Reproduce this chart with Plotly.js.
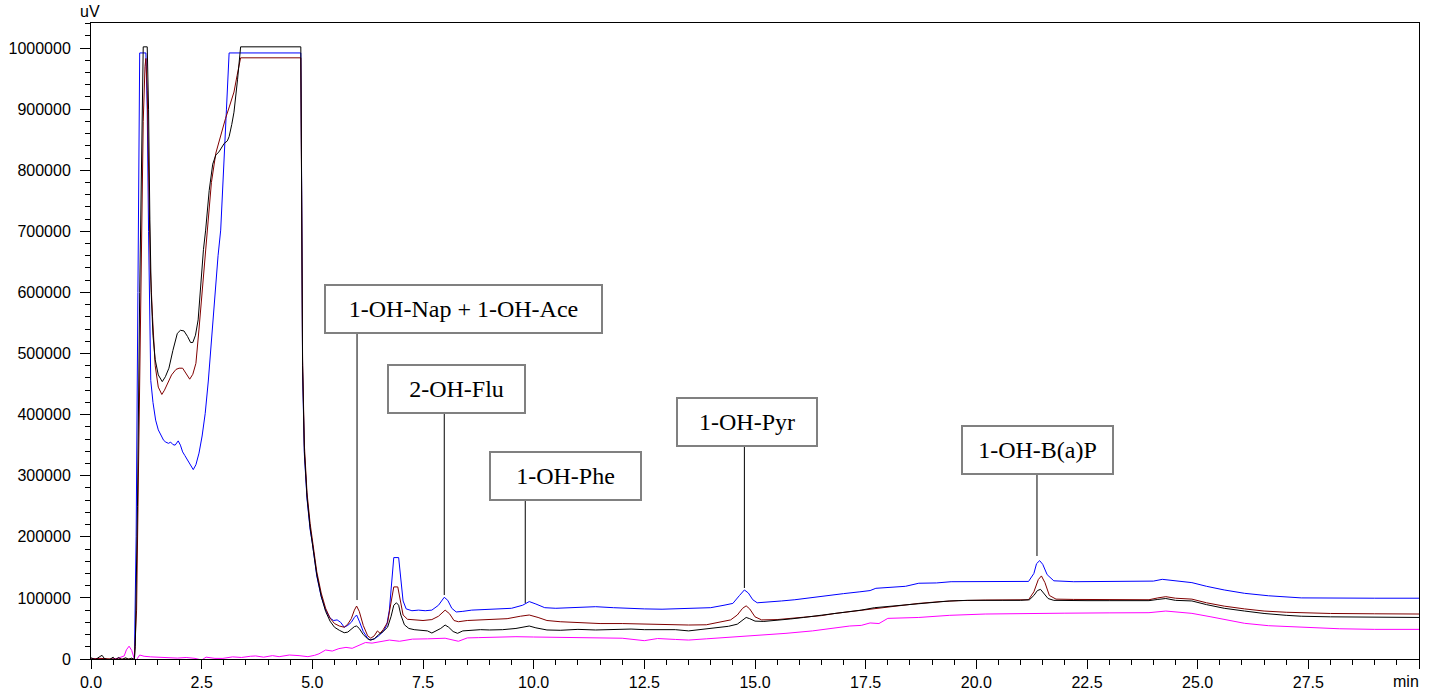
<!DOCTYPE html>
<html>
<head>
<meta charset="utf-8">
<script src="https://cdn.plot.ly/plotly-3.0.1.min.js"></script>
<style>html,body{margin:0;padding:0;background:#fff;}#chart{width:1435px;height:696px;}</style>
</head>
<body>
<div id="chart"></div>
<script>
// ---- data (retention time in min, signal in uV) ----
var blackT = [0.00,0.10,0.20,0.25,0.30,0.40,0.50,0.55,0.62,0.70,0.78,0.85,0.92,0.98,1.00,1.05,1.10,1.15,1.18,1.27,1.30,1.33,1.36,1.40,1.45,1.52,1.61,1.68,1.76,1.85,1.95,2.02,2.10,2.18,2.25,2.30,2.36,2.42,2.48,2.54,2.59,2.67,2.75,2.82,2.89,2.96,3.01,3.08,3.12,3.18,3.23,3.31,3.36,3.38,4.74,4.76,4.78,4.82,4.88,4.95,5.00,5.10,5.20,5.30,5.40,5.50,5.61,5.72,5.80,5.88,5.95,6.00,6.06,6.15,6.25,6.32,6.40,6.50,6.60,6.70,6.78,6.84,6.90,6.95,7.00,7.08,7.18,7.30,7.45,7.60,7.70,7.80,7.90,8.00,8.08,8.18,8.28,8.40,8.60,8.80,9.00,9.30,9.60,9.80,9.90,10.05,10.30,10.60,11.00,11.40,11.80,12.20,12.50,12.90,13.20,13.50,13.80,14.10,14.40,14.60,14.72,14.80,14.88,15.00,15.20,15.50,15.80,16.10,16.40,16.70,17.00,17.14,17.40,17.70,18.00,18.40,18.70,19.00,19.40,19.80,20.20,20.60,21.00,21.20,21.30,21.38,21.45,21.52,21.62,21.75,22.00,22.50,23.00,23.50,23.90,24.10,24.28,24.50,24.87,25.20,25.60,26.06,26.50,27.00,27.34,28.00,28.50,29.00,30.00];
var blackV = [2000,-1000,4000,6000,1000,-2000,3000,-1500,2500,-1000,2000,-500,1500,-1000,20000,250000,600000,900000,1002000,1002000,900000,720000,600000,530000,490000,465000,454000,462000,476000,505000,533000,538000,537000,528000,518000,518000,530000,555000,620000,670000,702000,767000,810000,825000,830000,838000,844000,848000,855000,875000,895000,948000,990000,1002000,1002000,750000,480000,340000,265000,215000,192000,138000,103000,78000,62000,52000,47000,43000,44000,48000,53000,54000,50000,40000,33000,31000,33000,40000,45000,52000,70000,88000,92000,88000,72000,56000,50000,48000,47500,46000,42500,46000,50000,55600,52000,45000,42000,46000,47500,48000,47500,48000,50000,53000,54000,51000,47500,47000,48500,47500,48500,49000,48000,47500,48000,46000,48500,50000,53500,57000,64000,68000,66000,62000,61500,63000,65500,68000,70500,73000,75500,77000,80000,84000,86000,89000,91000,93000,95000,96000,96500,96000,96000,97000,104000,112000,114000,108000,99000,96000,95500,95500,95500,95500,95500,97500,99000,96000,95000,89000,83000,78500,74500,71500,70000,69000,68500,68000,68000];

var redT = [0.00,0.20,0.50,0.80,0.98,1.03,1.08,1.13,1.18,1.22,1.24,1.27,1.30,1.34,1.39,1.45,1.52,1.60,1.66,1.73,1.82,1.92,1.99,2.07,2.14,2.23,2.30,2.37,2.44,2.53,2.63,2.72,2.82,2.92,3.04,3.13,3.23,3.30,3.38,4.74,4.76,4.78,4.82,4.88,4.95,5.00,5.10,5.20,5.30,5.40,5.50,5.61,5.72,5.80,5.88,5.95,6.00,6.06,6.15,6.25,6.32,6.40,6.47,6.53,6.60,6.70,6.78,6.84,6.93,6.98,7.05,7.15,7.30,7.50,7.70,7.85,8.00,8.10,8.20,8.30,8.50,8.80,9.10,9.40,9.70,9.90,10.10,10.30,10.60,11.00,11.50,12.00,12.50,13.00,13.50,13.90,14.20,14.45,14.60,14.72,14.80,14.88,15.00,15.15,15.50,15.80,16.10,16.50,16.80,17.14,17.50,17.99,18.40,18.70,19.20,19.60,20.20,20.80,21.18,21.30,21.40,21.47,21.55,21.65,21.80,22.20,22.80,23.40,23.90,24.10,24.28,24.50,24.87,25.20,25.60,26.06,26.50,27.00,27.34,28.00,29.00,30.00];
var redV = [0,1000,0,500,0,80000,350000,650000,880000,970000,983000,930000,800000,640000,560000,480000,445000,433000,440000,451000,465000,474000,476000,476000,468000,458000,466000,484000,540000,620000,702000,780000,828000,855000,885000,905000,928000,955000,984000,984000,740000,490000,350000,272000,222000,198000,143000,108000,83000,67000,58000,54000,52000,57000,66000,80000,86700,78000,55000,38000,34000,38000,46000,42000,48000,60000,90000,118000,118000,100000,72000,65000,64000,63000,64500,70000,80000,74000,63000,61000,63000,64000,64000,66000,70000,72000,68000,63000,61000,59500,58000,58000,57000,56500,55600,56000,60000,64000,72000,83000,87000,82000,69000,64000,64500,66500,68500,71000,74500,77400,81000,85600,89000,91000,94000,95500,96500,96500,97000,110000,130000,136000,125000,104000,98000,97500,97000,97000,97000,100000,102000,99500,98000,92000,86500,82000,78500,76500,75800,74500,74000,73600];

var blueT = [0.00,0.15,0.30,0.50,0.70,0.90,0.98,1.02,1.06,1.10,1.24,1.27,1.30,1.33,1.35,1.40,1.46,1.52,1.58,1.64,1.69,1.75,1.80,1.85,1.90,1.97,2.02,2.07,2.12,2.18,2.25,2.31,2.37,2.44,2.51,2.58,2.65,2.71,2.77,2.82,2.87,2.93,3.00,3.06,3.12,4.74,4.76,4.78,4.82,4.88,4.95,5.00,5.10,5.20,5.30,5.40,5.48,5.56,5.64,5.72,5.80,5.88,5.95,6.00,6.06,6.15,6.25,6.30,6.40,6.50,6.60,6.68,6.74,6.80,6.84,6.95,7.00,7.05,7.12,7.25,7.40,7.55,7.70,7.85,7.98,8.06,8.15,8.25,8.40,8.60,8.90,9.20,9.50,9.75,9.90,10.05,10.25,10.50,11.00,11.40,11.80,12.20,12.50,12.90,13.30,13.70,14.00,14.30,14.50,14.65,14.76,14.85,14.95,15.05,15.30,15.60,15.90,16.20,16.60,17.00,17.37,17.60,17.73,18.00,18.40,18.70,19.10,19.43,20.20,20.80,21.18,21.30,21.36,21.43,21.50,21.60,21.75,22.20,23.00,23.60,24.00,24.20,24.45,24.87,25.20,25.60,26.06,26.60,27.34,28.00,29.00,30.00];
var blueV = [-2000,-3000,-1000,-3000,-2000,-3000,-1000,200000,600000,992000,992000,900000,700000,520000,456000,420000,391000,375000,366000,358000,355000,353000,355000,351000,350000,357000,350000,339000,333000,325000,317000,310000,318000,337000,365000,402000,455000,511000,570000,620000,660000,702000,800000,900000,992000,992000,760000,470000,335000,262000,212000,190000,136000,102000,80000,67000,63000,64000,60000,52000,55000,60000,68000,72000,62000,45000,34000,31000,33000,38000,45000,55000,80000,130000,166000,166000,130000,95000,82000,79000,80000,79000,80000,88000,101000,96000,83000,77000,78000,80000,81000,82000,83000,88000,94000,90000,84000,83000,84000,85600,84000,82500,82000,81500,82500,82500,84000,88000,91000,104000,113000,108000,97000,92000,93000,95000,97000,100000,104000,107000,110000,112000,115700,117000,119000,124000,124500,126500,126500,126500,127000,140000,156000,161000,155000,138000,128000,126500,126500,126500,127500,130400,128000,125000,119000,113000,107500,103500,100000,99500,99500,99500];

var magentaT = [0.00,0.20,0.40,0.60,0.75,0.80,0.86,0.92,0.97,1.02,1.10,1.20,1.35,1.55,1.75,1.95,2.15,2.35,2.50,2.60,2.80,2.98,3.20,3.40,3.60,3.72,3.90,4.10,4.25,4.48,4.70,4.90,5.05,5.15,5.30,5.45,5.60,5.76,5.90,6.05,6.20,6.35,6.50,6.74,6.97,7.26,7.60,8.00,8.30,8.50,8.76,9.20,9.60,10.00,10.50,11.00,11.50,12.00,12.50,12.80,13.20,13.50,13.90,14.20,14.50,14.90,15.30,15.70,16.30,16.80,17.14,17.40,17.60,17.80,18.00,18.70,19.40,20.20,21.18,22.00,23.00,23.90,24.28,24.60,24.87,25.30,25.70,26.06,26.60,27.34,28.20,29.00,30.00];
var magentaV = [0,1000,-1000,1000,5000,15000,21000,14000,2000,-2000,6500,4500,3500,2700,3000,1500,2500,1000,-1600,3000,1000,1000,3500,2500,4500,5000,3000,5500,3800,6500,5500,3800,6000,8500,14700,13000,17000,19000,17500,22000,27000,26000,28000,31000,29000,32500,33000,34000,29000,34500,35000,36000,36500,36000,35500,35000,34500,34000,30000,33500,32000,31000,33000,34500,35500,37500,40000,42000,46000,51000,54000,55000,59000,58000,66500,68000,71500,73600,74700,75000,75500,75800,78500,76500,74700,69000,63000,58400,54500,51800,49500,48500,48500];

var peakLabels = ["1-OH-Nap + 1-OH-Ace","2-OH-Flu","1-OH-Phe","1-OH-Pyr","1-OH-B(a)P"];
var peakTimes  = [6.01, 7.98, 9.81, 14.76, 21.37];
var xTickValues = [0,2.5,5,7.5,10,12.5,15,17.5,20,22.5,25,27.5,30];
var xTickLabels = ["0.0","2.5","5.0","7.5","10.0","12.5","15.0","17.5","20.0","22.5","25.0","27.5",""];
var xUnit = "min", yUnit = "uV";

// ---- layout helpers (positions, not data) ----
var peakTipY  = [96500, 104700, 91700, 116200, 168600];   // line bottom ends
var boxBottom = [533600, 402600, 260200, 348600, 302800];  // line top ends
var boxCX     = [8.42, 8.26, 10.73, 14.81, 21.38];
var boxCY     = [572800, 441900, 299500, 387900, 341300];
var boxW      = [273, 133, 147, 136, 147];

function tr(t, v, c) {
  return {x: t, y: v, type: 'scatter', mode: 'lines', line: {color: c, width: 1}, hoverinfo: 'skip'};
}
var traces = [
  tr(magentaT, magentaV, '#FF00FF'),
  tr(blueT, blueV, '#0000FF'),
  tr(redT, redV, '#800000'),
  tr(blackT, blackV, '#000000')
];

var shapes = [], annotations = [];
for (var i = 0; i < peakLabels.length; i++) {
  shapes.push({type: 'line', xref: 'x', yref: 'y', x0: peakTimes[i], x1: peakTimes[i],
               y0: peakTipY[i], y1: boxBottom[i], line: {color: '#000', width: 1}});
  annotations.push({xref: 'x', yref: 'y', x: boxCX[i], y: boxCY[i], xanchor: 'center', yanchor: 'middle',
    text: peakLabels[i], showarrow: false, font: {family: 'Liberation Serif, Times New Roman, serif', size: 24, color: '#000'},
    bgcolor: '#fff', bordercolor: '#808080', borderwidth: 2, borderpad: 1, width: boxW[i], height: 44});
}
annotations.push({xref: 'paper', yref: 'paper', x: -0.001, y: 1.0, xanchor: 'center', yanchor: 'bottom',
  yshift: 1, text: yUnit, showarrow: false, font: {family: 'Liberation Sans, Arial, sans-serif', size: 16, color: '#000'}});
annotations.push({xref: 'x', yref: 'paper', x: 30, y: 0, xanchor: 'right', yanchor: 'top', yshift: -12, xshift: 2,
  text: xUnit, showarrow: false, font: {family: 'Liberation Sans, Arial, sans-serif', size: 16, color: '#000'}});

var axFont = {family: 'Liberation Sans, Arial, sans-serif', size: 16, color: '#000'};
var layout = {
  width: 1435, height: 696,
  margin: {l: 91, r: 16, t: 23, b: 37, pad: 0},
  paper_bgcolor: '#fff', plot_bgcolor: '#fff',
  showlegend: false,
  xaxis: {range: [0, 30], tickmode: 'array', tickvals: xTickValues, ticktext: xTickLabels,
    showline: true, mirror: true, linecolor: '#000', linewidth: 1, showgrid: false, zeroline: false,
    ticks: 'outside', ticklen: 9, tickcolor: '#000', tickwidth: 1, tickfont: axFont,
    minor: {dtick: 0.5, tick0: 0, ticks: 'outside', ticklen: 5, tickcolor: '#000', showgrid: false}},
  yaxis: {range: [0, 1041000], dtick: 100000, tick0: 0, tickformat: 'd',
    showline: true, mirror: true, linecolor: '#000', linewidth: 1, showgrid: false, zeroline: false,
    ticks: 'outside', ticklen: 10, tickcolor: '#000', tickwidth: 1, tickfont: axFont, ticklabelstandoff: 6,
    minor: {dtick: 20000, tick0: 0, ticks: 'outside', ticklen: 5, tickcolor: '#000', showgrid: false}},
  shapes: shapes,
  annotations: annotations
};
Plotly.newPlot('chart', traces, layout, {displayModeBar: false, staticPlot: true});
</script>
</body>
</html>
